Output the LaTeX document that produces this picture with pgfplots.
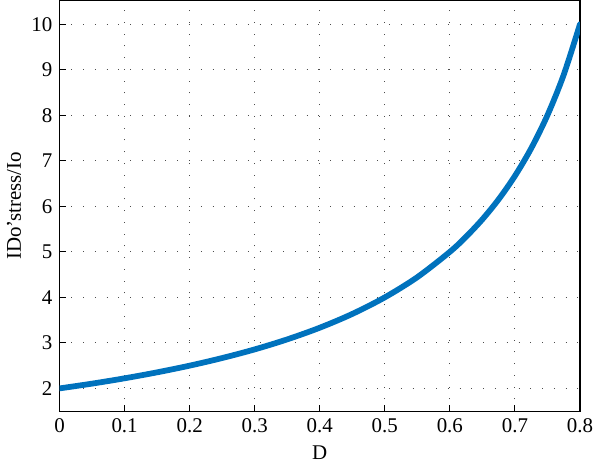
\documentclass[border=0pt]{standalone}
\usepackage{fontspec}
\setmainfont{Liberation Serif}
\usepackage{pgfplots}
\pgfplotsset{compat=1.18}
\definecolor{mblue}{RGB}{0,114,189}
\begin{document}
\fontsize{16}{18}\selectfont
\begin{tikzpicture}
\begin{axis}[
  scale only axis,
  width=398pt, height=314pt,
  xmin=0, xmax=0.8, ymin=1.5, ymax=10.52,
  xtick={0,0.1,...,0.8}, ytick={2,3,...,10},
  xticklabels={0,0.1,0.2,0.3,0.4,0.5,0.6,0.7,0.8},
  tick align=inside, tick pos=left,
  major tick length=5pt,
  grid=major,
  major grid style={black!70, line width=0.7pt, dash pattern=on 0.8pt off 8.2pt},
  axis line style={black, line width=0.9pt},
  tick style={black, line width=0.7pt},
  xlabel={D}, ylabel={IDo’stress/Io},
  xlabel style={yshift=1pt},
  ylabel style={yshift=-3pt},
  /pgf/number format/assume math mode=true,
  ticklabel style={font=\fontsize{16}{18}\selectfont},
  label style={font=\fontsize{16}{18}\selectfont},
]
\addplot[mblue, line width=4.4pt, line cap=round, line join=round, smooth] coordinates {
(0,2) (0.05,2.105) (0.1,2.222) (0.15,2.353) (0.2,2.5) (0.25,2.667) (0.3,2.857)
(0.35,3.077) (0.4,3.333) (0.45,3.636) (0.5,4) (0.55,4.444) (0.6,5) (0.625,5.333)
(0.65,5.714) (0.675,6.154) (0.7,6.667) (0.725,7.273) (0.75,8) (0.775,8.889) (0.8,10)
};
\end{axis}
\end{tikzpicture}
\end{document}
